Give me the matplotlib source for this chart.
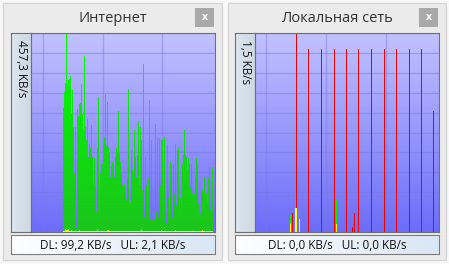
import numpy as np
import matplotlib
matplotlib.use("Agg")
import matplotlib.pyplot as plt
from matplotlib.patches import Rectangle, PathPatch
from matplotlib.path import Path
from matplotlib.colors import LinearSegmentedColormap

plt.rcParams['font.family'] = ['Open Sans', 'DejaVu Sans']

W, H = 449, 264

# --- data -------------------------------------------------------------
inet_max = 457.3          # KB/s, top of left graph
inet_start = 32           # first sample column
inet_dl = [286, 322, 343, 457, 341, 349, 351, 358, 272, 326,
           242, 134, 242, 12, 282, 266, 294, 297, 341, 272,
           234, 404, 242, 211, 259, 173, 203, 192, 246, 173,
           104, 169, 104, 46, 192, 311, 35, 134, 157, 157,
           199, 219, 316, 199, 299, 196, 184, 127, 150, 161,
           157, 127, 173, 192, 184, 278, 184, 161, 134, 107,
           104, 111, 104, 73, 123, 328, 65, 69, 188, 142,
           134, 234, 173, 127, 176, 255, 107, 242, 211, 96,
           387, 35, 173, 107, 50, 127, 304, 31, 211, 27,
           19, 27, 249, 46, 215, 35, 217, 107, 211, 211,
           23, 219, 50, 19, 199, 81, 35, 161, 157, 35,
           157, 88, 203, 61, 188, 196, 27, 77, 58, 157,
           176, 234, 176, 173, 142, 169, 157, 104, 157, 88,
           96, 88, 127, 169, 157, 65, 12, 42, 88, 96,
           88, 127, 81, 88, 61, 127, 150, 50, 38, 150]
inet_ul = [2, 3, 6, 5, 4, 6, 3, 2, 5, 3,
           2, 2, 3, 2, 2, 2, 5, 2, 2, 2,
           3, 2, 2, 2, 2, 2, 2, 2, 2, 2,
           2, 2, 2, 2, 6, 2, 2, 2, 2, 2,
           2, 2, 2, 2, 5, 4, 2, 2, 2, 2,
           2, 2, 2, 2, 2, 2, 2, 2, 2, 2,
           2, 2, 2, 2, 2, 2, 2, 2, 2, 2,
           2, 2, 2, 2, 2, 2, 2, 2, 6, 2,
           2, 2, 2, 2, 2, 2, 2, 2, 2, 2,
           2, 2, 2, 2, 2, 2, 2, 2, 5, 2,
           2, 2, 2, 2, 2, 2, 2, 2, 2, 2,
           2, 2, 4, 2, 2, 2, 2, 2, 2, 2,
           2, 3, 2, 2, 2, 2, 2, 2, 2, 2,
           2, 2, 2, 2, 2, 2, 2, 2, 2, 5,
           2, 2, 2, 2, 2, 2, 2, 2, 2, 2]

lan_max = 1.5
lan_red_idx = [37, 41, 53, 66, 79, 91, 97, 99, 103, 116, 129, 141, 154, 166, 178]
lan_red_val = [0.145, 1.5, 1.38, 1.38, 1.38, 1.38, 0.035, 0.145,
               1.38, 1.38, 1.38, 1.38, 1.38, 1.38, 0.91]
lan_dl_idx = [35, 40, 44, 81]
lan_dl_val = [0.128, 0.30, 0.17, 0.25]
lan_ul_idx = [35, 40, 41, 44, 81]
lan_ul_val = [0.07, 0.18, 0.18, 0.10, 0.06]

titles = ["Интернет", "Локальная сеть"]
scales = ["457,3 KB/s", "1,5 KB/s"]
status = ["DL: 99,2 KB/s   UL: 2,1 KB/s", "DL: 0,0 KB/s   UL: 0,0 KB/s"]

# --- helpers ----------------------------------------------------------
def frac(x0, y0, x1, y1):
    return [x0 / W, 1 - y1 / H, (x1 - x0) / W, (y1 - y0) / H]

bg_cmap = LinearSegmentedColormap.from_list("bg", ["#6c6cfa", "#c2c2ff"])
green_cmap = LinearSegmentedColormap.from_list("gr", ["#1cc41c", "#00ff00"])
strip_cmap = LinearSegmentedColormap.from_list("st", ["#dde6ef", "#ccd8e3"])
stat_cmap = LinearSegmentedColormap.from_list("sb", ["#ffffff", "#d9e6f6"])
vgrad = np.linspace(1, 0, 256).reshape(-1, 1)
hgrad = np.linspace(0, 1, 256).reshape(1, -1)

fig = plt.figure(figsize=(W / 100, H / 100), dpi=100, facecolor="#f8f8f8")
bg = fig.add_axes([0, 0, 1, 1])
bg.set_xlim(0, W)
bg.set_ylim(H, 0)
bg.axis("off")

panels = [(3, 222, 11, 31, 215), (228, 446, 235, 255, 439)]
for i, (px0, px1, sx0, gx0, gx1) in enumerate(panels):
    bg.add_patch(Rectangle((px0, 3), px1 - px0, 257, fc="#ebebeb", ec="#d6d6d6", lw=1))
    bg.text((sx0 + gx1) / 2, 18, titles[i], ha="center", va="center",
            fontsize=10.5, color="#333333")
    bg.add_patch(Rectangle((gx1 - 20, 8), 19, 19, fc="#a9a9a9", ec="none"))
    bg.text(gx1 - 10.5, 17, "x", ha="center", va="center", fontsize=7.5,
            color="white", fontweight="bold")

    # scale strip
    st = fig.add_axes(frac(sx0, 33, gx0, 232))
    st.imshow(hgrad, cmap=strip_cmap, aspect="auto", extent=[0, 1, 0, 1])
    st.set_xticks([]); st.set_yticks([])
    for s in st.spines.values():
        s.set_color("#6f6f6f")
    st.text(0.5, 0.965, scales[i], transform=st.transAxes, rotation=270,
            ha="center", va="top", fontsize=8.5, color="#111111")

    # status box
    sb = fig.add_axes(frac(sx0, 235, gx1, 254))
    sb.imshow(hgrad, cmap=stat_cmap, aspect="auto", extent=[0, 1, 0, 1])
    sb.set_xticks([]); sb.set_yticks([])
    for s in sb.spines.values():
        s.set_color("#7d7d7d")
    sb.text(0.5, 0.45, status[i], transform=sb.transAxes, ha="center",
            va="center", fontsize=8.5, color="#111111")

# --- graphs -----------------------------------------------------------
def graph_axes(gx0, gx1, ymax, xgrid):
    ax = fig.add_axes(frac(gx0, 33, gx1, 232))
    ncol = gx1 - gx0
    ax.imshow(vgrad, cmap=bg_cmap, aspect="auto", extent=[0, ncol, 0, ymax], zorder=0)
    ax.set_xlim(0, ncol)
    ax.set_ylim(0, ymax)
    ax.set_xticks(xgrid)
    ax.set_yticks(np.linspace(0, ymax, 11))
    ax.tick_params(length=0, labelbottom=False, labelleft=False)
    ax.set_axisbelow(True)
    ax.grid(True, color="#7878e6", lw=1, alpha=0.45)
    for s in ax.spines.values():
        s.set_color("#6f6f6f")
    return ax

ax1 = graph_axes(31, 215, inet_max, [11.5, 71.5, 130.5])
x_dl = np.arange(inet_start, inet_start + len(inet_dl))
bars = ax1.bar(x_dl, inet_dl, width=1, align="edge", color="none", lw=0)
cpath = Path.make_compound_path(*[b.get_path().transformed(b.get_patch_transform()) for b in bars])
clip = PathPatch(cpath, transform=ax1.transData, fc="none", ec="none")
ax1.add_patch(clip)
gim = ax1.imshow(vgrad, cmap=green_cmap, aspect="auto",
                 extent=[0, 184, 0, inet_max], zorder=2)
gim.set_clip_path(clip)
ax1.set_xlim(0, 184)
ax1.set_ylim(0, inet_max)
ax1.bar(np.arange(inet_start, inet_start + len(inet_ul)), inet_ul, width=1,
        align="edge", color="#ffff00", lw=0, zorder=3)

ax2 = graph_axes(255, 439, lan_max, [10.5, 71, 130.5])
ax2.bar(lan_red_idx, lan_red_val, width=1, align="edge", color="#f00000", lw=0, zorder=2)
ax2.bar(lan_dl_idx, lan_dl_val, width=1, align="edge", color="#00ee00", lw=0, zorder=3)
ax2.bar(lan_ul_idx, lan_ul_val, width=1, align="edge", color="#ffff00", lw=0, zorder=4)

fig.savefig("out.png", dpi=100, facecolor=fig.get_facecolor())
